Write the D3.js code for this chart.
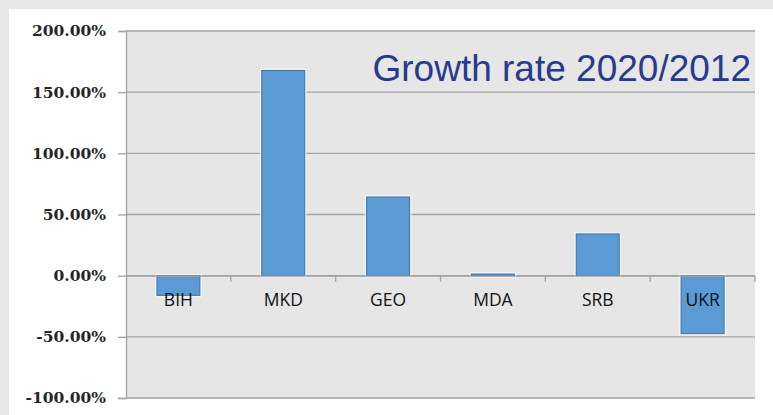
<!DOCTYPE html>
<html>
<head>
<meta charset="utf-8">
<script src="https://cdn.jsdelivr.net/npm/d3@7"></script>
<style>
  html, body { margin: 0; padding: 0; background: #e8e8e8; }
  svg { display: block; }
</style>
</head>
<body>
<svg id="chart" width="773" height="415"></svg>
<script>
// Growth rate 2020/2012 by country
const categories = ["BIH", "MKD", "GEO", "MDA", "SRB", "UKR"];
const growth = [-0.161, 1.677, 0.643, 0.013, 0.341, -0.474];
const yTicks = [-1, -0.5, 0, 0.5, 1, 1.5, 2];
const titleText = "Growth rate 2020/2012";

const W = 773, H = 415;
const plot = { left: 126, right: 755, top: 31, bottom: 398 };

const svg = d3.select("#chart");

// page background and white card
svg.append("rect").attr("width", W).attr("height", H).attr("fill", "#e8e8e8");
svg.append("rect").attr("x", 9).attr("y", 9).attr("width", W - 9).attr("height", H - 9).attr("fill", "#ffffff");

const x = d3.scaleBand().domain(categories).range([plot.left, plot.right]).paddingInner(0.59).paddingOuter(0.295);
const xBand = d3.scaleBand().domain(categories).range([plot.left, plot.right]);
const y = d3.scaleLinear().domain([-1, 2]).range([plot.bottom, plot.top]);

// plot area
svg.append("rect")
  .attr("x", plot.left).attr("y", plot.top)
  .attr("width", plot.right - plot.left).attr("height", plot.bottom - plot.top)
  .attr("fill", "#e6e6e6");

// horizontal gridlines
svg.append("g").selectAll("line").data(yTicks).join("line")
  .attr("x1", plot.left).attr("x2", plot.right)
  .attr("y1", d => y(d)).attr("y2", d => y(d))
  .attr("stroke", "#a3a3a3").attr("stroke-width", 1.3);

// value axis, percentages with a plain hyphen for negatives
const pct = d => (d < 0 ? "-" : "") + Math.abs(d * 100).toFixed(2) + "%";
const yAxis = d3.axisLeft(y).tickValues(yTicks).tickSize(8).tickPadding(12).tickFormat(pct);
const gy = svg.append("g").attr("transform", `translate(${plot.left},0)`).call(yAxis);
gy.select(".domain").attr("stroke", "#a3a3a3").attr("stroke-width", 1.3);
gy.selectAll(".tick line").attr("stroke", "#a3a3a3").attr("stroke-width", 1.3);
gy.selectAll(".tick text")
  .attr("font-family", "'DejaVu Serif', serif")
  .attr("font-weight", "bold")
  .attr("font-size", 15.5)
  .attr("fill", "#262626");

// bars with a soft halo
const bars = svg.append("g");
bars.selectAll("rect.halo").data(categories).join("rect")
  .attr("class", "halo")
  .attr("x", d => x(d) - 2)
  .attr("width", x.bandwidth() + 4)
  .attr("y", (d, i) => Math.min(y(growth[i]), y(0)) - 2)
  .attr("height", (d, i) => Math.abs(y(growth[i]) - y(0)) + 4)
  .attr("fill", "#f4f8fc").attr("opacity", 0.7);
bars.selectAll("rect.bar").data(categories).join("rect")
  .attr("class", "bar")
  .attr("x", d => x(d))
  .attr("width", x.bandwidth())
  .attr("y", (d, i) => Math.min(y(growth[i]), y(0)))
  .attr("height", (d, i) => Math.max(1.5, Math.abs(y(growth[i]) - y(0))))
  .attr("fill", "#5b9bd5")
  .attr("stroke", "#41719c").attr("stroke-width", 1);

// category axis along zero
const xAxis = d3.axisBottom(xBand).tickSize(0).tickPadding(0).tickFormat(() => "");
const gx = svg.append("g").attr("transform", `translate(0,${y(0)})`).call(xAxis);
gx.select(".domain").attr("stroke", "#a3a3a3").attr("stroke-width", 1.3);
// tick marks between categories
const boundaries = categories.map(c => xBand(c) + xBand.bandwidth());
gx.selectAll("line.sep").data(boundaries).join("line")
  .attr("class", "sep")
  .attr("x1", d => d).attr("x2", d => d)
  .attr("y1", 0).attr("y2", 6)
  .attr("stroke", "#a3a3a3").attr("stroke-width", 1.3);

// category labels
svg.append("g").selectAll("text").data(categories).join("text")
  .attr("x", d => xBand(d) + xBand.bandwidth() / 2)
  .attr("y", y(0) + 30)
  .attr("text-anchor", "middle")
  .attr("font-family", "'Open Sans', sans-serif")
  .attr("font-size", 17.5)
  .attr("fill", "#111111")
  .text(d => d);

// title
svg.append("text")
  .attr("x", 751).attr("y", 81)
  .attr("text-anchor", "end")
  .attr("font-family", "'Liberation Sans', Arial, sans-serif")
  .attr("font-size", 37)
  .attr("fill", "#263a8e")
  .text(titleText);
</script>
</body>
</html>
